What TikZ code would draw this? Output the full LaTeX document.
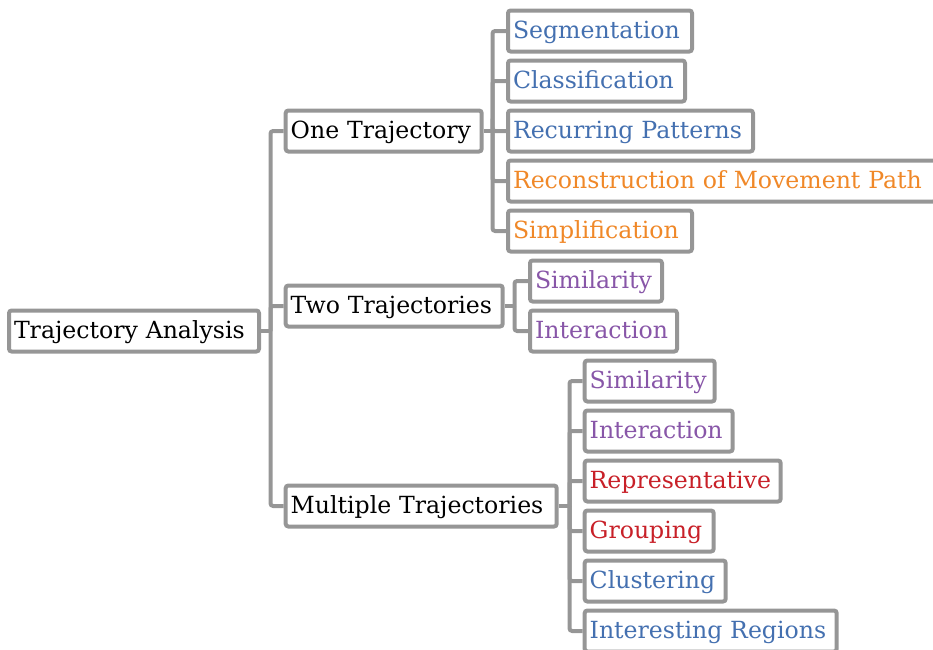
\documentclass[tikz,border=0pt]{standalone}
\usepackage{fontspec}
\setmainfont{DejaVu Serif}
\usepackage{tikz}
\usetikzlibrary{positioning,calc}

\definecolor{linegray}{RGB}{150,150,150}
\definecolor{tblue}{RGB}{68,112,176}
\definecolor{torange}{RGB}{240,136,40}
\definecolor{tpurple}{RGB}{136,86,168}
\definecolor{tred}{RGB}{200,32,40}

\tikzset{
  item/.style={draw=linegray, line width=3pt, rounded corners=2pt, fill=white,
    anchor=west, inner xsep=3.75pt, inner ysep=0pt, minimum height=30.75pt,
    align=left, text height=13.2pt, text depth=1.9pt,
    font=\fontsize{17.7pt}{20pt}\selectfont},
  boxw/.style={text width=#1*0.75pt},
  conn/.style={draw=linegray, line width=3pt, rounded corners=2pt},
}

\begin{document}
\begin{tikzpicture}[x=0.75pt,y=-0.75pt]
  \useasboundingbox (0,0) rectangle (933,650);

  % root and first level
  \node[item, boxw=240] (root) at (7,331) {Trajectory Analysis};
  \node[item, boxw=186] (one) at (283.7,131) {One Trajectory};
  \node[item, boxw=207] (two) at (283.7,306) {Two Trajectories};
  \node[item, boxw=261] (multi) at (283.7,506) {Multiple Trajectories};

  % one trajectory
  \node[item, boxw=174, text=tblue] (seg) at (506,31) {Segmentation};
  \node[item, boxw=167, text=tblue] (cls) at (506,81) {Classification};
  \node[item, boxw=235, text=tblue] (rec) at (506,131) {Recurring Patterns};
  \node[item, boxw=418, text=torange] (recon) at (506,181) {Reconstruction of Movement Path};
  \node[item, boxw=174, text=torange] (simp) at (506,231) {Simplification};

  % two trajectories
  \node[item, boxw=122, text=tpurple] (sim2) at (528,281) {Similarity};
  \node[item, boxw=137, text=tpurple] (int2) at (528,331) {Interaction};

  % multiple trajectories
  \node[item, boxw=120, text=tpurple] (simm) at (582.7,381) {Similarity};
  \node[item, boxw=138, text=tpurple] (intm) at (582.7,431) {Interaction};
  \node[item, boxw=186, text=tred] (repm) at (582.7,481) {Representative};
  \node[item, boxw=119, text=tred] (grpm) at (582.7,531) {Grouping};
  \node[item, boxw=131, text=tblue] (clum) at (582.7,581) {Clustering};
  \node[item, boxw=242, text=tblue] (regm) at (582.7,631) {Interesting Regions};

  % junctions
  \coordinate (j0) at (270.5,331);
  \coordinate (j1) at (492.5,131);
  \coordinate (j2) at (514.5,306);
  \coordinate (j3) at (569.5,506);

  \draw[conn] (root.east) -- (j0);
  \foreach \c in {one,two,multi} \draw[conn] (j0) |- (\c.west);
  \draw[conn] (one.east) -- (j1);
  \foreach \c in {seg,cls,rec,recon,simp} \draw[conn] (j1) |- (\c.west);
  \draw[conn] (two.east) -- (j2);
  \foreach \c in {sim2,int2} \draw[conn] (j2) |- (\c.west);
  \draw[conn] (multi.east) -- (j3);
  \foreach \c in {simm,intm,repm,grpm,clum,regm} \draw[conn] (j3) |- (\c.west);
\end{tikzpicture}
\end{document}
